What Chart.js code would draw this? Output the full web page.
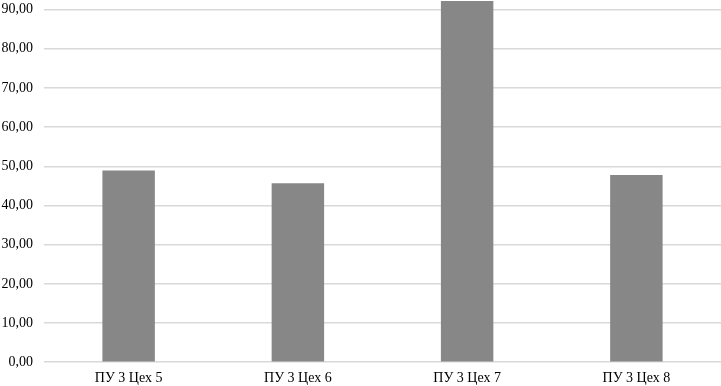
<!DOCTYPE html>
<html>
<head>
<meta charset="utf-8">
<script src="https://cdn.jsdelivr.net/npm/chart.js@4"></script>
<style>
  html, body { margin: 0; padding: 0; background: #fff; overflow: hidden; }
  #wrap { position: relative; width: 721px; height: 386px; overflow: hidden; }
  #chart { position: absolute; left: 0; top: -49px; }
</style>
</head>
<body>
<div id="wrap">
  <canvas id="chart" width="721" height="444"></canvas>
</div>
<script>
// categories and values
const workshops = ['ПУ 3 Цех 5', 'ПУ 3 Цех 6', 'ПУ 3 Цех 7', 'ПУ 3 Цех 8'];
const values = [48.9, 45.7, 92.2, 47.8];
const yTicks = [0, 10, 20, 30, 40, 50, 60, 70, 80, 90, 100];

const ctx = document.getElementById('chart').getContext('2d');
const chart = new Chart(ctx, {
  type: 'bar',
  data: {
    labels: workshops,
    datasets: [{
      data: values,
      backgroundColor: '#878787',
      barPercentage: 0.5,
      categoryPercentage: 0.62
    }]
  },
  options: {
    responsive: false,
    animation: false,
    layout: { padding: { top: 2, right: 0, bottom: 0, left: 0 } },
    plugins: {
      legend: { display: false },
      tooltip: { enabled: false }
    },
    scales: {
      x: {
        grid: { display: false, drawTicks: false },
        border: { display: false },
        ticks: {
          padding: 8,
          color: '#000',
          font: { family: 'Liberation Serif', size: 14 }
        }
      },
      y: {
        min: 0,
        max: 100,
        afterBuildTicks: axis => { axis.ticks = yTicks.map(v => ({ value: v })); },
        afterFit: axis => { axis.width = 44; },
        grid: { color: '#d9d9d9', lineWidth: 1.5, drawTicks: false },
        border: { display: false },
        ticks: {
          padding: 11,
          color: '#000',
          font: { family: 'Liberation Serif', size: 14 },
          callback: v => v.toFixed(2).replace('.', ',')
        }
      }
    }
  }
});
</script>
</body>
</html>
